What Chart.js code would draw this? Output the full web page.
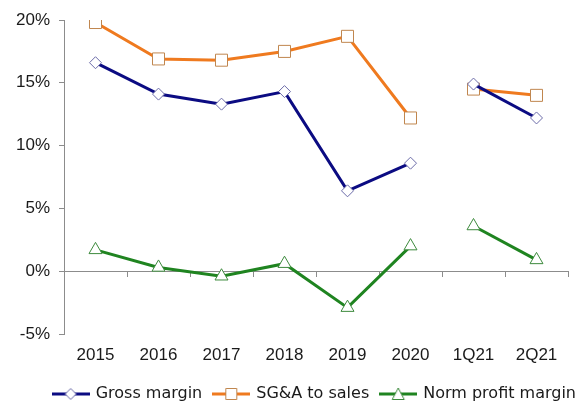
<!DOCTYPE html>
<html>
<head>
<meta charset="utf-8">
<script src="https://cdn.jsdelivr.net/npm/chart.js@4"></script>
<style>
  html, body { margin: 0; padding: 0; background: #fff; }
  #wrap { width: 588px; height: 412px; }
</style>
</head>
<body>
<div id="wrap"><canvas id="marginChart"></canvas></div>
<script>
// Margins by period (%)
const periods = ['2015', '2016', '2017', '2018', '2019', '2020', '1Q21', '2Q21'];
const grossMargin = [16.6, 14.1, 13.3, 14.3, 6.4, 8.6, 14.9, 12.2];
const sgaToSales = [19.8, 16.9, 16.8, 17.5, 18.7, 12.2, 14.5, 14.0];
const normProfitMargin = [1.7, 0.3, -0.4, 0.6, -2.9, 2.0, 3.6, 0.9];
const yTicks = [-5, 0, 5, 10, 15, 20];

// annual points and quarterly points are not joined
const lastAnnual = periods.indexOf('2020');

const axisGray = '#8c8c8c';
const textColor = '#1a1a1a';

// little line + marker picture for the legend
function legendIcon(lineColor, edgeColor, shape) {
  const c = document.createElement('canvas');
  c.width = 38;
  c.height = 16;
  const g = c.getContext('2d');
  g.strokeStyle = lineColor;
  g.lineWidth = 3;
  g.beginPath();
  g.moveTo(0, 8);
  g.lineTo(38, 8);
  g.stroke();

  g.fillStyle = '#fff';
  g.strokeStyle = edgeColor;
  g.lineWidth = 1;
  g.beginPath();
  if (shape === 'diamond') {
    g.moveTo(19, 2.5); g.lineTo(24.5, 8); g.lineTo(19, 13.5); g.lineTo(13.5, 8);
  } else if (shape === 'square') {
    g.rect(13.5, 2.5, 11, 11);
  } else {
    g.moveTo(19, 2); g.lineTo(25, 13.5); g.lineTo(13, 13.5);
  }
  g.closePath();
  g.fill();
  g.stroke();
  return c;
}

const series = [
  { label: 'Gross margin', data: grossMargin, color: '#0b0b82', edge: '#6b6ba8', style: 'rectRot', radius: 6, icon: 'diamond' },
  { label: 'SG&A to sales', data: sgaToSales, color: '#ef7a1f', edge: '#c0864e', style: 'rect', radius: 8.5, icon: 'square' },
  { label: 'Norm profit margin', data: normProfitMargin, color: '#1f8420', edge: '#3d8a3d', style: 'triangle', radius: 7.5, icon: 'triangle' }
];

const icons = series.map(s => legendIcon(s.color, s.edge, s.icon));

const datasets = series.map(s => ({
  label: s.label,
  data: s.data,
  borderColor: s.color,
  borderWidth: 3,
  tension: 0,
  pointStyle: s.style,
  pointRadius: s.radius,
  pointHoverRadius: s.radius,
  pointBackgroundColor: '#fff',
  pointBorderColor: s.edge,
  pointBorderWidth: 1,
  segment: {
    borderColor: ctx => ctx.p0DataIndex === lastAnnual ? 'rgba(0,0,0,0)' : undefined
  }
}));

const ctx = document.getElementById('marginChart').getContext('2d');

new Chart(ctx, {
  type: 'line',
  data: { labels: periods, datasets: datasets },
  options: {
    responsive: true,
    maintainAspectRatio: false,
    animation: false,
    layout: { padding: { top: 20, right: 0, left: 0, bottom: 0 } },
    scales: {
      x: {
        type: 'category',
        offset: true,
        grid: { display: false, drawTicks: false },
        border: { display: false },
        ticks: {
          color: textColor,
          padding: 11,
          font: { family: 'Liberation Sans', size: 17 }
        },
        afterFit: scale => { scale.height = 40; }
      },
      // axis line drawn through zero, with tick marks between periods
      zero: {
        type: 'category',
        axis: 'x',
        labels: periods,
        position: { y: 0 },
        offset: true,
        grid: { drawOnChartArea: false, offset: true, tickLength: 5, color: axisGray },
        border: { color: axisGray, width: 1 },
        ticks: { display: false }
      },
      y: {
        min: -5,
        max: 20,
        afterBuildTicks: scale => { scale.ticks = yTicks.map(v => ({ value: v })); },
        grid: { drawOnChartArea: false, tickLength: 5, color: axisGray },
        border: { color: axisGray, width: 1 },
        ticks: {
          color: textColor,
          padding: 9,
          font: { family: 'Liberation Sans', size: 17 },
          callback: v => v + '%'
        },
        afterFit: scale => { scale.width = 64; }
      },
      // empty strip keeping the plot clear of the right edge
      rightGap: {
        type: 'linear',
        position: 'right',
        grid: { display: false },
        border: { display: false },
        ticks: { display: false },
        afterFit: scale => { scale.width = 20; }
      }
    },
    plugins: {
      tooltip: { enabled: false },
      legend: {
        position: 'bottom',
        align: 'end',
        labels: {
          usePointStyle: true,
          pointStyleWidth: 34,
          padding: 12,
          color: textColor,
          font: { family: 'DejaVu Sans', size: 16 },
          generateLabels: chart => chart.data.datasets.map((ds, i) => ({
            text: ds.label,
            pointStyle: icons[i],
            fillStyle: 'rgba(0,0,0,0)',
            strokeStyle: 'rgba(0,0,0,0)',
            lineWidth: 0,
            hidden: false,
            datasetIndex: i,
            fontColor: textColor
          }))
        }
      }
    }
  }
});
</script>
</body>
</html>
